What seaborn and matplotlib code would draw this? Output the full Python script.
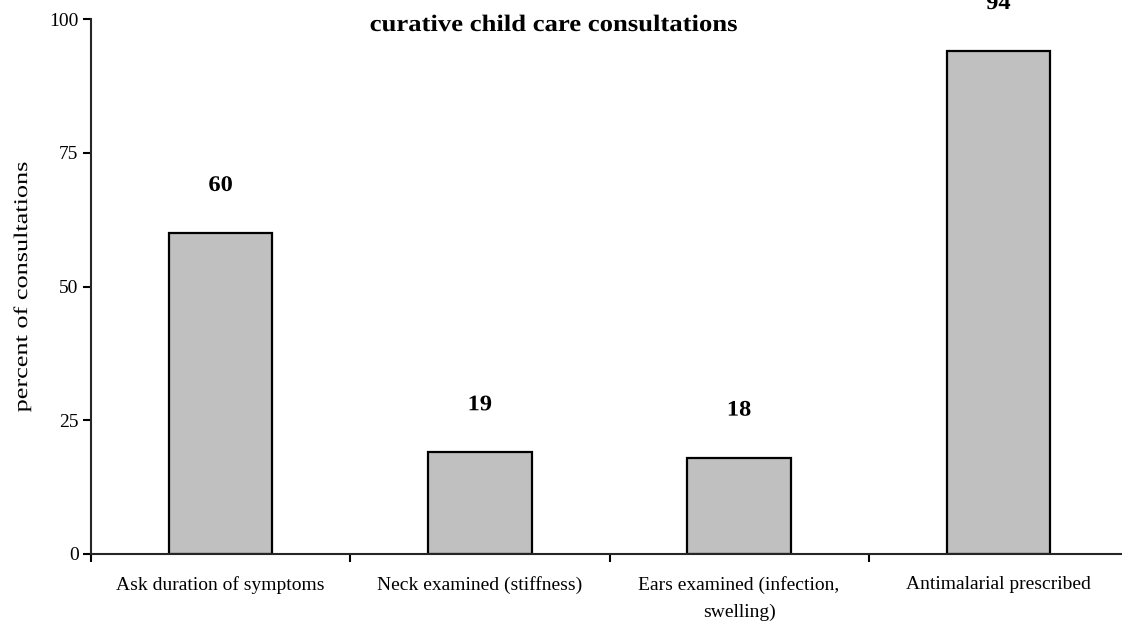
import numpy as np
import pandas as pd
import matplotlib
matplotlib.use("Agg")
import matplotlib.pyplot as plt
import seaborn as sns
from matplotlib.patheffects import AbstractPathEffect
from matplotlib.transforms import Affine2D

categories = ["Ask duration of symptoms", "Neck examined (stiffness)",
              "Ears examined (infection,\nswelling)", "Antimalarial prescribed"]
values = [60, 19, 18, 94]
yticks = [0, 25, 50, 75, 100]
title = "curative child care consultations"
ylabel = "percent of consultations"


# some texts in the source are wider than plain Times;
# stretch glyphs along the text direction to get the same look
class Stretch(AbstractPathEffect):
    def __init__(self, sx):
        super().__init__()
        self.sx = sx

    def draw_path(self, renderer, gc, tpath, affine, rgbFace=None):
        ext = tpath.get_extents()
        cx = (ext.x0 + ext.x1) / 2
        local = Affine2D().translate(-cx, 0).scale(self.sx, 1).translate(cx, 0)
        renderer.draw_path(gc, tpath, local + affine, rgbFace)


sns.set_style("ticks")
plt.rcParams['font.family'] = ['Liberation Serif', 'DejaVu Serif']
plt.rcParams['text.color'] = 'black'
plt.rcParams['axes.labelcolor'] = 'black'
plt.rcParams['xtick.color'] = 'black'
plt.rcParams['ytick.color'] = 'black'

df = pd.DataFrame({"cat": categories, "pct": values})

fig = plt.figure(figsize=(11.22, 6.29), dpi=100)
ax = fig.add_axes([91 / 1122, 1 - 554 / 629, (1128 - 91) / 1122, (554 - 19) / 629])

sns.barplot(data=df, x="cat", y="pct", color="#c0c0c0", saturation=1,
            width=0.4, edgecolor="black", linewidth=1.6, ax=ax)

# value labels above bars
for i, v in enumerate(values):
    ax.text(i, v + 8.8, str(v), ha="center", va="center",
            fontsize=16, fontweight="bold", clip_on=False,
            path_effects=[Stretch(1.1)])

ax.set_ylim(0, 100)
ax.set_xlim(-0.5, 3.5)
ax.set_yticks(yticks)
ax.set_xlabel("")
ax.set_ylabel(ylabel, fontsize=14, labelpad=13,
              path_effects=[Stretch(1.35)])
ax.tick_params(axis="y", labelsize=14, width=1.5, length=6, direction="out", pad=3)
ax.tick_params(axis="x", which="major", length=0, labelsize=14, pad=16)
ax.set_xticks(np.arange(-0.5, 4, 1.0), minor=True)
ax.tick_params(axis="x", which="minor", length=6, width=1.5, direction="out")
for lbl in ax.get_xticklabels():
    lbl.set_linespacing(1.75)

sns.despine(ax=ax)
for s in ["left", "bottom"]:
    ax.spines[s].set_linewidth(1.5)

fig.text(554 / 1122, 1 - 31 / 629, title, ha="center", va="baseline",
         fontsize=17, fontweight="bold", path_effects=[Stretch(1.13)])

fig.savefig("out.png", dpi=100)
